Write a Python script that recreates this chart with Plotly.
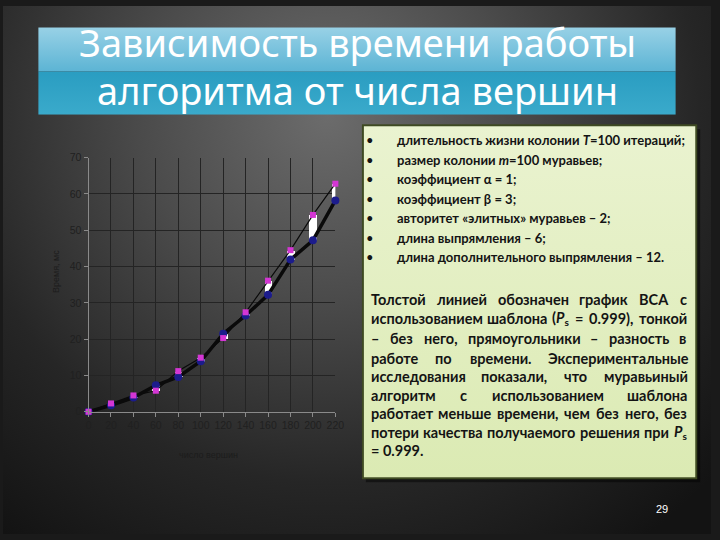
import base64
import json
import plotly.graph_objects as go

# ---------------- data ----------------
vertices = [0, 20, 40, 60, 80, 100, 120, 140, 160, 180, 200, 220]
time_with_template = [0, 1.8, 3.9, 7.3, 9.6, 13.9, 21.5, 26.5, 32.2, 41.9, 47.2, 58.2]
time_without_template = [0, 2.3, 4.5, 5.8, 11.2, 14.9, 20.3, 27.4, 36.1, 44.5, 54.2, 62.8]
x_ticks = [0, 20, 40, 60, 80, 100, 120, 140, 160, 180, 200, 220]
y_ticks = [0, 10, 20, 30, 40, 50, 60, 70]

title_lines = ["Зависимость времени работы", "алгоритма от числа вершин"]
bullet_lines = [
    "длительность жизни колонии <i>T</i>=100 итераций;",
    "размер колонии <i>m</i>=100 муравьев;",
    "коэффициент α = 1;",
    "коэффициент β = 3;",
    "авторитет «элитных» муравьев – 2;",
    "длина выпрямления – 6;",
    "длина дополнительного выпрямления – 12.",
]
para_lines = [
    "Толстой линией обозначен график ВСА с",
    "использованием шаблона (<i>P</i><sub>s</sub> = 0.999), тонкой",
    "– без него, прямоугольники – разность в",
    "работе по времени. Экспериментальные",
    "исследования показали, что муравьиный",
    "алгоритм с использованием шаблона",
    "работает меньше времени, чем без него, без",
    "потери качества получаемого решения при <i>P</i><sub>s</sub>",
    "= 0.999.",
]
page_number = "29"

diff = [b - a for a, b in zip(time_with_template, time_without_template)]

W, H = 720, 540
def px(x):
    return x / W
def py(y):
    return 1 - y / H

# ---------------- background (slide decoration) ----------------
svg = f"""<svg xmlns='http://www.w3.org/2000/svg' width='{W}' height='{H}' viewBox='0 0 {W} {H}' preserveAspectRatio='none'>
<defs>
<radialGradient id='bg' cx='330' cy='110' r='540' gradientUnits='userSpaceOnUse'>
<stop offset='0' stop-color='#6c6c6c'/>
<stop offset='0.35' stop-color='#4b4b4b'/>
<stop offset='0.7' stop-color='#262626'/>
<stop offset='1' stop-color='#131313'/>
</radialGradient>
<linearGradient id='t1' x1='0' y1='0' x2='0' y2='1'>
<stop offset='0' stop-color='#98d1e6'/><stop offset='1' stop-color='#5cb4d4'/>
</linearGradient>
<linearGradient id='t2' x1='0' y1='0' x2='0' y2='1'>
<stop offset='0' stop-color='#2a9dc1'/><stop offset='1' stop-color='#3aaacb'/>
</linearGradient>
<linearGradient id='tb' x1='0' y1='0' x2='0' y2='1'>
<stop offset='0' stop-color='#eaf3d0'/><stop offset='1' stop-color='#dbeab3'/>
</linearGradient>
</defs>
<rect width='{W}' height='{H}' fill='url(#bg)'/>
<rect x='36' y='22' width='648' height='45' fill='url(#t1)'/>
<rect x='36' y='67' width='648' height='44' fill='url(#t2)'/>
<rect x='369' y='126' width='340' height='361' fill='#000' opacity='0.45'/>
<rect x='366' y='122' width='339' height='361' fill='url(#tb)' stroke='#3e4a22' stroke-width='2'/>
</svg>"""
svg_uri = "data:image/svg+xml;base64," + base64.b64encode(svg.encode("utf-8")).decode("ascii")

fig = go.Figure()

fig.add_trace(go.Scatter(x=vertices, y=time_without_template, mode="lines",
                         line=dict(color="#0a0a0a", width=1.2), cliponaxis=False,
                         showlegend=False, hoverinfo="skip"))
fig.add_trace(go.Scatter(x=vertices, y=time_with_template, mode="lines",
                         line=dict(color="#0a0a0a", width=3.5), cliponaxis=False,
                         showlegend=False, hoverinfo="skip"))
fig.add_trace(go.Bar(x=vertices, y=diff, base=time_with_template, width=7,
                     marker=dict(color="white", line=dict(width=0)), cliponaxis=False,
                     showlegend=False, hoverinfo="skip"))
fig.add_trace(go.Scatter(x=vertices, y=time_with_template, mode="markers",
                         marker=dict(color="#1c1c8c", size=8, symbol="circle"),
                         cliponaxis=False, showlegend=False))
fig.add_trace(go.Scatter(x=vertices, y=time_without_template, mode="markers",
                         marker=dict(color="#d436d4", size=6, symbol="square"),
                         cliponaxis=False, showlegend=False))

axis_common = dict(
    showgrid=True, gridcolor="#242424", gridwidth=1, zeroline=False,
    showline=True, linecolor="#8a8a8a", linewidth=1,
    ticks="outside", ticklen=4, tickcolor="#8a8a8a",
    tickfont=dict(family="Liberation Sans, Arial", size=10.5, color="#202020"),
)
fig.update_layout(
    width=W, height=H,
    margin=dict(l=0, r=0, t=0, b=0),
    paper_bgcolor="#1a1a1a",
    plot_bgcolor="rgba(0,0,0,0)",
    showlegend=False,
    bargap=0,
    xaxis=dict(domain=[px(87), px(338)], range=[0, 220], tickvals=x_ticks, **axis_common),
    yaxis=dict(domain=[py(415), py(155)], range=[0, 70], tickvals=y_ticks, **axis_common),
    images=[dict(source=svg_uri, xref="paper", yref="paper", x=0, y=1, sizex=1, sizey=1,
                 xanchor="left", yanchor="top", sizing="stretch", layer="below")],
)

ann = []
# axis titles
ann.append(dict(text="Время, мс", x=px(54), y=py(272), xref="paper", yref="paper",
                textangle=-90, showarrow=False, xanchor="center", yanchor="middle",
                font=dict(family="Liberation Sans, Arial", size=9, color="#1c1c1c")))
ann.append(dict(text="число вершин", x=px(209), y=py(459), xref="paper", yref="paper",
                showarrow=False, xanchor="center", yanchor="middle",
                font=dict(family="Liberation Sans, Arial", size=9, color="#1c1c1c")))

# title
for t, yy in zip(title_lines, [37, 86]):
    ann.append(dict(text=t, x=px(360), y=py(yy), xref="paper", yref="paper",
                    showarrow=False, xanchor="center", yanchor="middle",
                    font=dict(family="Noto Sans", size=38, color="white")))

# bullets
body_font = "Lato, Noto Sans"
for i, t in enumerate(bullet_lines):
    yy = 137 + 20 * i
    ann.append(dict(text="•", x=px(373), y=py(yy), xref="paper", yref="paper",
                    showarrow=False, xanchor="center", yanchor="middle",
                    font=dict(family=body_font, size=13, color="#141414")))
    ann.append(dict(text="<b>" + t + "</b>", x=px(399), y=py(yy), xref="paper", yref="paper",
                    showarrow=False, xanchor="left", yanchor="middle",
                    font=dict(family=body_font, size=13, color="#141414")))

# justified paragraph (word positions refined in the browser from measured widths)
fs = 14.5
L, R = 372, 693
para_y = [300, 320, 340, 360, 379, 398, 417, 436, 455]
meta = []
for i, (line, yy) in enumerate(zip(para_lines, para_y)):
    words = line.split(" ")
    last = i == len(para_lines) - 1
    if last:
        ann.append(dict(text="<b>" + line + "</b>", x=px(L), y=py(yy), xref="paper", yref="paper",
                        showarrow=False, xanchor="left", yanchor="middle",
                        font=dict(family=body_font, size=fs, color="#141414")))
        continue
    n = len(words)
    idxs = []
    for j, w in enumerate(words):
        idxs.append(len(ann))
        ann.append(dict(text="<b>" + w + "</b>", x=px(L + (R - L) * j / max(n - 1, 1)),
                        y=py(yy), xref="paper", yref="paper",
                        showarrow=False, xanchor="left", yanchor="middle",
                        font=dict(family=body_font, size=fs, color="#141414")))
    meta.append(dict(idx=idxs, words=words, L=L, R=R, fs=fs))

ann.append(dict(text=page_number, x=px(670), y=py(514), xref="paper", yref="paper",
                showarrow=False, xanchor="center", yanchor="middle",
                font=dict(family="Liberation Sans, Arial", size=11, color="white")))

fig.update_layout(annotations=ann)

js = """
document.body.style.margin = '0';
var gd = document.getElementById('{plot_id}');
var META = """ + json.dumps(meta, ensure_ascii=False) + """;
var FAM = 'Lato, "Noto Sans"';
var cv = document.createElement('canvas');
var ctx = cv.getContext('2d');
function measure(html, fs) {
  var total = 0;
  var re = /<(i|sub)>(.*?)<\\/\\1>|([^<]+)/g;
  var m;
  while ((m = re.exec(html)) !== null) {
    if (m[1] === 'i') { ctx.font = 'italic bold ' + fs + 'px ' + FAM; total += ctx.measureText(m[2]).width; }
    else if (m[1] === 'sub') { ctx.font = 'bold ' + (fs * 0.7) + 'px ' + FAM; total += ctx.measureText(m[2]).width; }
    else { ctx.font = 'bold ' + fs + 'px ' + FAM; total += ctx.measureText(m[3]).width; }
  }
  return total;
}
var upd = {};
META.forEach(function (line) {
  var ws = line.words.map(function (w) { return measure(w, line.fs); });
  var sum = ws.reduce(function (a, b) { return a + b; }, 0);
  var gap = (line.R - line.L - sum) / (line.words.length - 1);
  var pos = line.L;
  line.idx.forEach(function (k, j) {
    upd['annotations[' + k + '].x'] = pos / 720;
    pos += ws[j] + gap;
  });
});
Plotly.relayout(gd, upd);
"""

fig.write_html("out.html", post_script=js, config={"displayModeBar": False})
